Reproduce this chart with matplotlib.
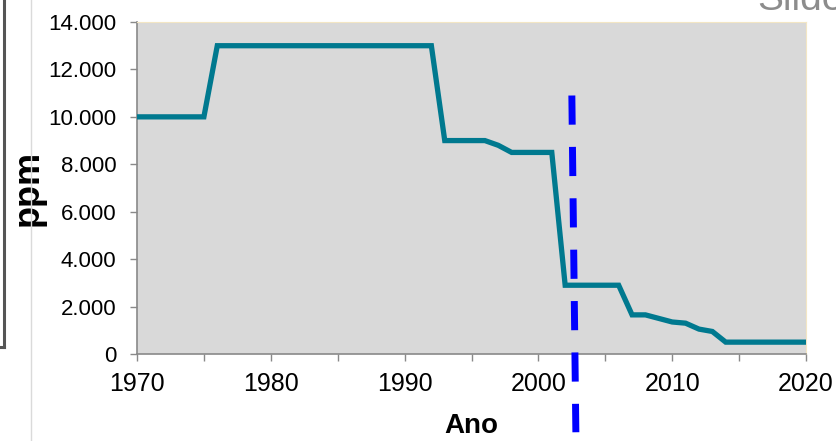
import numpy as np
import matplotlib.pyplot as plt
from matplotlib.lines import Line2D
from matplotlib.ticker import FuncFormatter

plt.rcParams['font.family'] = ['Liberation Sans', 'DejaVu Sans']

# teor de enxofre (ppm) por ano
anos = [1970, 1975, 1976, 1992, 1993, 1996, 1997, 1998, 2001, 2002, 2006,
        2007, 2008, 2009, 2010, 2011, 2012, 2013, 2014, 2020]
ppm = [10000, 10000, 13000, 13000, 9000, 9000, 8800, 8500, 8500, 2900, 2900,
       1650, 1650, 1500, 1350, 1300, 1050, 950, 500, 500]

marco_x = [2002.5, 2002.8]  # linha tracejada
marco_y = [10900, -3300]

xticks = np.arange(1970, 2021, 5)
yticks = np.arange(0, 14001, 2000)

fig = plt.figure(figsize=(8.37, 4.41), dpi=100)
ax = fig.add_axes([137/837, 1-354/441, (806-137)/837, (354-22)/441])
ax.set_facecolor('#D9D9D9')

ax.plot(anos, ppm, color='#00798F', lw=3.8, solid_joinstyle='miter', zorder=3)
ax.plot(marco_x, marco_y, color='#0000FF', lw=5, dashes=(4.2, 3.2),
        clip_on=False, zorder=5)

ax.set_xlim(1970, 2020)
ax.set_ylim(0, 14000)
ax.set_xticks(xticks)
ax.set_xticklabels([str(t) if t % 10 == 0 else '' for t in xticks])
ax.set_yticks(yticks)
ax.yaxis.set_major_formatter(FuncFormatter(lambda v, p: f'{int(v):,}'.replace(',', '.')))
ax.tick_params(axis='both', direction='out', length=5, width=1, color='#898989',
               labelcolor='black')
ax.tick_params(axis='x', labelsize=18, pad=8)
ax.tick_params(axis='y', labelsize=16, pad=10)

for s in ['left', 'bottom']:
    ax.spines[s].set_color('#898989')
    ax.spines[s].set_linewidth(1.2)
for s in ['top', 'right']:
    ax.spines[s].set_color('#F3E6C4')
    ax.spines[s].set_linewidth(0.8)

ax.set_xlabel('Ano', fontsize=20, fontweight='bold', labelpad=12)
ax.set_ylabel('ppm', fontsize=26, fontweight='bold')
ax.yaxis.set_label_coords(-0.136, 0.5)

# restos do slide
fig.add_artist(Line2D([4/837, 4/837], [1, 1-347/441], transform=fig.transFigure,
                      color='#555555', lw=2.2))
fig.add_artist(Line2D([0, 4/837], [1-347/441, 1-347/441], transform=fig.transFigure,
                      color='#555555', lw=2.2))
fig.add_artist(Line2D([31/837, 31/837], [0, 1], transform=fig.transFigure,
                      color='#DADADA', lw=1))
fig.text(757/837, 1-10/441, 'Slide', fontsize=28, color='#8C8C8C', va='baseline', ha='left')

fig.savefig('out.png', dpi=100)
